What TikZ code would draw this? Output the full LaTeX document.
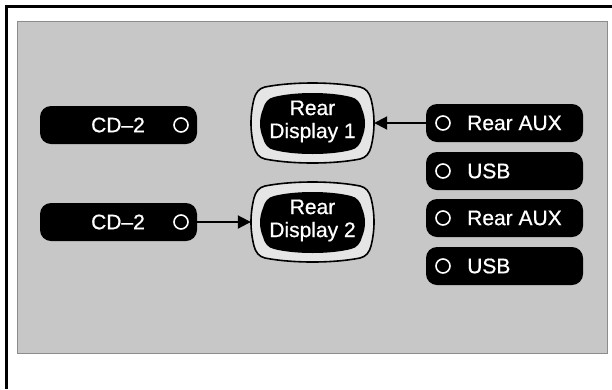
\documentclass[tikz,border=0pt]{standalone}
\usepackage{fontspec}
\setmainfont{Liberation Sans}
\usetikzlibrary{arrows.meta}
\tikzset{
  pill/.style={fill=black, rounded corners=11pt, minimum width=157pt, minimum height=38pt, inner sep=0pt},
  lbl/.style={text=white, font=\fontsize{21}{23}\selectfont\addfontfeature{FakeBold=0.7}, inner sep=0pt},
  knob/.style={circle, draw=white, line width=1.6pt, minimum size=14pt, inner sep=0pt},
  tvbox/.style={minimum width=123pt, minimum height=80pt, inner sep=0pt},
  arr/.style={line width=2pt, -{Triangle[length=13pt,width=13pt]}},
  tvouter/.style={fill=black!10, draw=black, line width=1.6pt},
  tvinner/.style={fill=black}
}
\newcommand\tvshape[5]{%
  \pgfmathsetmacro\tW{#4}\pgfmathsetmacro\tH{#5}\pgfmathsetmacro\tL{(2*#5-32)/3}%
  \path[#1, shift={(#2,#3)}]
    (-\tW+14,-\tH+4) .. controls (-\tW/3,-\tH-4/3) and (\tW/3,-\tH-4/3) .. (\tW-14,-\tH+4)
    .. controls (\tW-8,-\tH+5.2) and (\tW-4.5,-\tH+10) .. (\tW-3,-\tH+16)
    .. controls (\tW+1,-\tH+16+\tL) and (\tW+1,\tH-16-\tL) .. (\tW-3,\tH-16)
    .. controls (\tW-4.5,\tH-10) and (\tW-8,\tH-5.2) .. (\tW-14,\tH-4)
    .. controls (\tW/3,\tH+4/3) and (-\tW/3,\tH+4/3) .. (-\tW+14,\tH-4)
    .. controls (-\tW+8,\tH-5.2) and (-\tW+4.5,\tH-10) .. (-\tW+3,\tH-16)
    .. controls (-\tW-1,\tH-16-\tL) and (-\tW-1,-\tH+16+\tL) .. (-\tW+3,-\tH+16)
    .. controls (-\tW+4.5,-\tH+10) and (-\tW+8,-\tH+5.2) .. (-\tW+14,-\tH+4) -- cycle;%
}
\begin{document}
\begin{tikzpicture}[x=1pt,y=-1pt]
\useasboundingbox (0,0) rectangle (612,389);
% frame
\draw[line width=3pt] (6.5,389) -- (6.5,6.5) -- (612,6.5);
\draw[draw=black!45, line width=0.8pt, fill=black!22] (17,21) rectangle (607,353);

% displays
\tvshape{tvouter}{312.5}{123}{61.5}{40}
\tvshape{tvinner}{312.5}{123.5}{52.5}{30.5}
\node[tvbox] (rd1) at (312.5,123) {};
\node[lbl, align=center, yshift=1.5pt] (rd1t) at (rd1.center) {Rear\\Display 1};

\tvshape{tvouter}{312.5}{222}{61.5}{40}
\tvshape{tvinner}{312.5}{222.5}{52.5}{30.5}
\node[tvbox] (rd2) at (312.5,222) {};
\node[lbl, align=center, yshift=1.5pt] (rd2t) at (rd2.center) {Rear\\Display 2};

% left pills
\node[pill] (cd2a) at (118.5,125) {};
\node[lbl] (cd2at) at (118,125) {CD–2};
\node[knob] (cd2ak) at (181,125) {};

\node[pill] (cd2b) at (118.5,222) {};
\node[lbl] (cd2bt) at (118,222) {CD–2};
\node[knob] (cd2bk) at (181,222) {};

% right pills
\node[pill] (aux1) at (504.5,123) {};
\node[knob] (aux1k) at (443,123) {};
\node[lbl, anchor=west] (aux1t) at (467,123) {Rear AUX};

\node[pill] (usb1) at (504.5,171) {};
\node[knob] (usb1k) at (443,171) {};
\node[lbl, anchor=west] (usb1t) at (467,171) {USB};

\node[pill] (aux2) at (504.5,218) {};
\node[knob] (aux2k) at (443,218) {};
\node[lbl, anchor=west] (aux2t) at (467,218) {Rear AUX};

\node[pill] (usb2) at (504.5,266) {};
\node[knob] (usb2k) at (443,266) {};
\node[lbl, anchor=west] (usb2t) at (467,266) {USB};

% connectors
\draw[arr] (aux1.west) -- (rd1.east);
\draw[arr] (cd2b.east) -- (rd2.west);
\end{tikzpicture}
\end{document}
